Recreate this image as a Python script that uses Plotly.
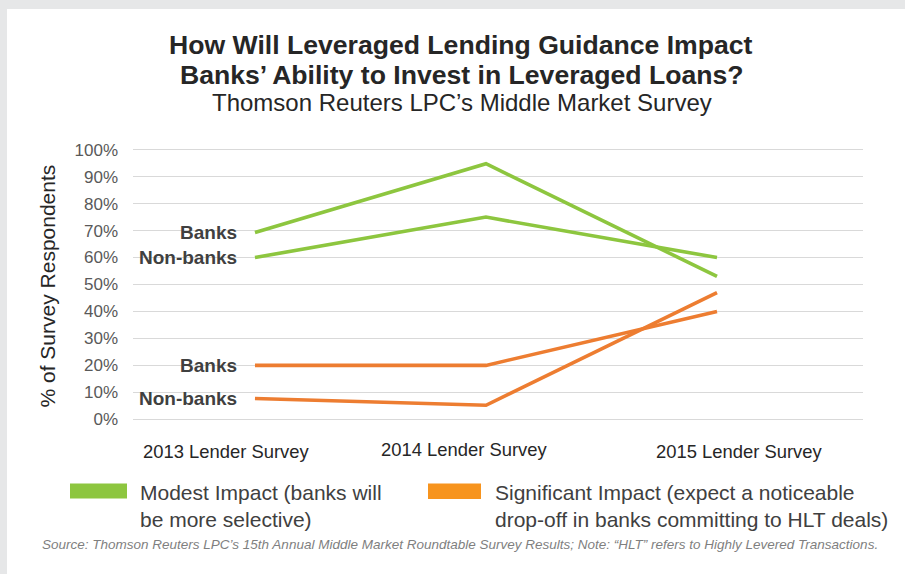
import plotly.graph_objects as go

# ---- data ----
surveys = ["2013 Lender Survey", "2014 Lender Survey", "2015 Lender Survey"]
modest_banks = [69.3, 94.8, 53.0]
modest_nonbanks = [60.0, 75.0, 60.0]
significant_banks = [20.0, 20.0, 40.0]
significant_nonbanks = [7.7, 5.2, 47.0]
y_ticks = [0, 10, 20, 30, 40, 50, 60, 70, 80, 90, 100]
series_labels = ["Banks", "Non-banks"]
legend_labels = ["Modest Impact (banks will<br>be more selective)",
                 "Significant Impact (expect a noticeable<br>drop-off in banks committing to HLT deals)"]
title_lines = ["How Will Leveraged Lending Guidance Impact",
               "Banks’ Ability to Invest in Leveraged Loans?"]
subtitle = "Thomson Reuters LPC’s Middle Market Survey"
y_title = "% of Survey Respondents"
source = ("Source: Thomson Reuters LPC’s 15th Annual Middle Market Roundtable Survey Results; "
          "Note: “HLT” refers to Highly Levered Transactions.")

# ---- layout constants ----
W, H = 905, 574
L, R, T, B = 133, 42, 147, 152
PW, PH = W - L - R, H - T - B
GREEN = "#8DC63F"
ORANGE = "#ED7D31"
ORANGE_LEG = "#F7941E"
FONT = "Liberation Sans, Arial, sans-serif"

def px(x):
    return (x - L) / PW

def py(y):
    return (H - B - y) / PH

xs = list(range(len(surveys)))
label_x = [-0.125, 0.905, 2.095]
label_shift = [-31.7, -29.7, -31.7]

fig = go.Figure()
for vals, col in [(modest_banks, GREEN), (modest_nonbanks, GREEN),
                  (significant_banks, ORANGE), (significant_nonbanks, ORANGE)]:
    fig.add_trace(go.Scatter(x=xs, y=vals, mode="lines",
                             line=dict(color=col, width=3.6),
                             hoverinfo="skip", showlegend=False))

ann = []
# series labels at first point
for vals_pair in [(modest_banks, modest_nonbanks), (significant_banks, significant_nonbanks)]:
    for lab, vals in zip(series_labels, vals_pair):
        ann.append(dict(x=xs[0], y=vals[0], xref="x", yref="y", text=f"<b>{lab}</b>",
                        xanchor="right", yanchor="middle", xshift=-16, showarrow=False,
                        font=dict(family=FONT, size=19, color="#404040")))
# category labels
for lab, lx, sh in zip(surveys, label_x, label_shift):
    ann.append(dict(x=lx, y=0, xref="x", yref="y", text=lab, xanchor="center",
                    yanchor="middle", yshift=sh, showarrow=False,
                    font=dict(family=FONT, size=18.4, color="#262626")))
# titles
ann.append(dict(x=px(461), y=py(45), xref="paper", yref="paper", text=f"<b>{title_lines[0]}</b>",
                xanchor="center", yanchor="middle", showarrow=False,
                font=dict(family=FONT, size=26.6, color="#262626")))
ann.append(dict(x=px(462), y=py(75), xref="paper", yref="paper", text=f"<b>{title_lines[1]}</b>",
                xanchor="center", yanchor="middle", showarrow=False,
                font=dict(family=FONT, size=26.6, color="#262626")))
ann.append(dict(x=px(461.5), y=py(102.5), xref="paper", yref="paper", text=subtitle,
                xanchor="center", yanchor="middle", showarrow=False,
                font=dict(family=FONT, size=24, color="#262626")))
# y title
ann.append(dict(x=px(47), y=py(286.5), xref="paper", yref="paper", text=y_title, textangle=-90,
                xanchor="center", yanchor="middle", showarrow=False,
                font=dict(family=FONT, size=21, color="#262626")))
# legend text
for lab, lx in zip(legend_labels, [138, 493]):
    ann.append(dict(x=px(lx), y=py(479), xref="paper", yref="paper", text=lab, align="left",
                    xanchor="left", yanchor="top", showarrow=False,
                    font=dict(family=FONT, size=21, color="#404040")))
# source
ann.append(dict(x=px(40), y=py(544), xref="paper", yref="paper", text=f"<i>{source}</i>",
                xanchor="left", yanchor="middle", showarrow=False,
                font=dict(family=FONT, size=13.5, color="#7F7F7F")))

shapes = [
    dict(type="rect", xref="paper", yref="paper", x0=px(7), x1=px(W + 5), y0=py(H + 5), y1=py(9),
         fillcolor="white", line=dict(width=0), layer="below"),
    dict(type="rect", xref="paper", yref="paper", x0=px(70), x1=px(127), y0=py(498.5), y1=py(483.5),
         fillcolor=GREEN, line=dict(width=0)),
    dict(type="rect", xref="paper", yref="paper", x0=px(428), x1=px(481), y0=py(499), y1=py(483.5),
         fillcolor=ORANGE_LEG, line=dict(width=0)),
]

fig.update_layout(
    width=W, height=H,
    margin=dict(l=L, r=R, t=T, b=B, pad=0),
    paper_bgcolor="#E6E7E8",
    plot_bgcolor="rgba(0,0,0,0)",
    showlegend=False,
    annotations=ann,
    shapes=shapes,
    xaxis=dict(range=[-0.528, 2.632], showgrid=False, zeroline=False, showticklabels=False,
               showline=False, fixedrange=True),
    yaxis=dict(range=[-1, 101], tickvals=y_ticks, ticktext=[f"{v}%" for v in y_ticks],
               showgrid=True, gridcolor="#D9D9D9", gridwidth=1.4, zeroline=False, showline=False,
               ticks="", ticklabelstandoff=14,
               tickfont=dict(family=FONT, size=17, color="#595959"), fixedrange=True),
)

fig.write_html("out.html")
